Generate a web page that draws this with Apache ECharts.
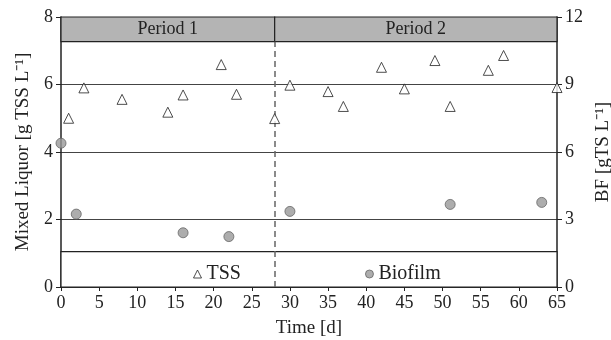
<!DOCTYPE html>
<html>
<head>
<meta charset="utf-8">
<script src="https://cdn.jsdelivr.net/npm/echarts@6/dist/echarts.min.js"></script>
<style>
  html, body { margin: 0; padding: 0; background: #fff; }
  #chart { width: 611px; height: 340px; }
</style>
</head>
<body>
<div id="chart"></div>
<script>
// TSS in mixed liquor, g TSS/L (left axis)
const tssDays = [1, 3, 8, 14, 16, 21, 23, 28, 30, 35, 37, 42, 45, 49, 51, 56, 58, 65];
const tssValues = [5.0, 5.9, 5.56, 5.18, 5.69, 6.59, 5.71, 4.99, 5.98, 5.79, 5.35, 6.51, 5.87, 6.71, 5.35, 6.42, 6.86, 5.91];
// biofilm, gTS/L (right axis)
const bfDays = [0, 2, 16, 22, 30, 51, 63];
const bfValues = [6.39, 3.24, 2.41, 2.24, 3.36, 3.67, 3.76];
// periods
const periods = [["Period 1", 0, 28], ["Period 2", 28, 65]];
const switchDay = 28;

const font = "Liberation Serif";
const tick = { fontFamily: font, fontSize: 18, color: "#222" };
const title = { fontFamily: font, fontSize: 19, color: "#222" };

const chart = echarts.init(document.getElementById("chart"));
const option = {
  animation: false,
  textStyle: { fontFamily: font },
  grid: { left: 61, right: 54, top: 17, bottom: 53, outerBoundsMode: "none" },
  legend: {
    left: 188,
    top: 259,
    itemGap: 124,
    itemWidth: 8,
    itemHeight: 8,
    textStyle: { fontFamily: font, fontSize: 20, color: "#222" },
    data: [
      { name: "TSS", icon: "triangle", itemStyle: { color: "#fff", borderColor: "#222", borderWidth: 1 } },
      { name: "Biofilm", icon: "circle", itemStyle: { color: "#999", borderColor: "#666", borderWidth: 1 } },
    ],
  },
  xAxis: {
    type: "value",
    min: 0,
    max: 65,
    interval: 5,
    name: "Time [d]",
    nameLocation: "middle",
    nameGap: 32,
    nameTextStyle: title,
    axisLine: { lineStyle: { color: "#222", width: 1.5 } },
    axisTick: { show: true, length: 4, lineStyle: { color: "#222" } },
    axisLabel: Object.assign({ margin: 7 }, tick),
    splitLine: { show: false },
  },
  yAxis: [
    {
      type: "value",
      min: 0,
      max: 8,
      interval: 2,
      name: "Mixed Liquor [g TSS L⁻¹]",
      nameLocation: "middle",
      nameGap: 28,
      nameTextStyle: title,
      axisLine: { show: true, lineStyle: { color: "#222", width: 1.5 } },
      axisTick: { show: true, length: 5, lineStyle: { color: "#222" } },
      axisLabel: Object.assign({ margin: 8 }, tick),
      splitLine: { show: true, lineStyle: { color: "#444", width: 1 } },
    },
    {
      type: "value",
      min: 0,
      max: 12,
      interval: 3,
      name: "BF [gTS L⁻¹]",
      nameLocation: "middle",
      nameGap: 26,
      nameTextStyle: title,
      axisLine: { show: true, lineStyle: { color: "#222", width: 1.5 } },
      axisTick: { show: true, length: 5, lineStyle: { color: "#222" } },
      axisLabel: Object.assign({ margin: 8 }, tick),
      splitLine: { show: false },
    },
  ],
  series: [
    {
      name: "TSS",
      type: "scatter",
      yAxisIndex: 0,
      symbol: "triangle",
      symbolSize: 10,
      itemStyle: { color: "#fff", borderColor: "#222", borderWidth: 1 },
      data: tssDays.map((d, i) => [d, tssValues[i]]),
      z: 5,
      markArea: {
        silent: true,
        data: [
          ...periods.map(p => [
            {
              name: p[0],
              xAxis: p[1],
              yAxis: 7.27,
              itemStyle: { color: "#b4b4b4", borderColor: "#222", borderWidth: 1.2 },
              label: { show: true, position: "inside", fontFamily: font, fontSize: 18, color: "#222" },
            },
            { xAxis: p[2], yAxis: 8 },
          ]),
          [
            {
              xAxis: 0,
              yAxis: 0,
              itemStyle: { color: "#fff", borderColor: "#222", borderWidth: 1.2 },
              label: { show: false },
            },
            { xAxis: 65, yAxis: 1.05 },
          ],
        ],
      },
      markLine: {
        silent: true,
        symbol: "none",
        label: { show: false },
        lineStyle: { color: "#666", type: [6, 4], width: 1.5 },
        data: [[{ coord: [switchDay, 0] }, { coord: [switchDay, 7.27] }]],
      },
    },
    {
      name: "Biofilm",
      type: "scatter",
      yAxisIndex: 1,
      symbol: "circle",
      symbolSize: 10,
      itemStyle: { color: "#999", borderColor: "#666", borderWidth: 1 },
      data: bfDays.map((d, i) => [d, bfValues[i]]),
      z: 5,
    },
  ],
};
chart.setOption(option);
</script>
</body>
</html>
